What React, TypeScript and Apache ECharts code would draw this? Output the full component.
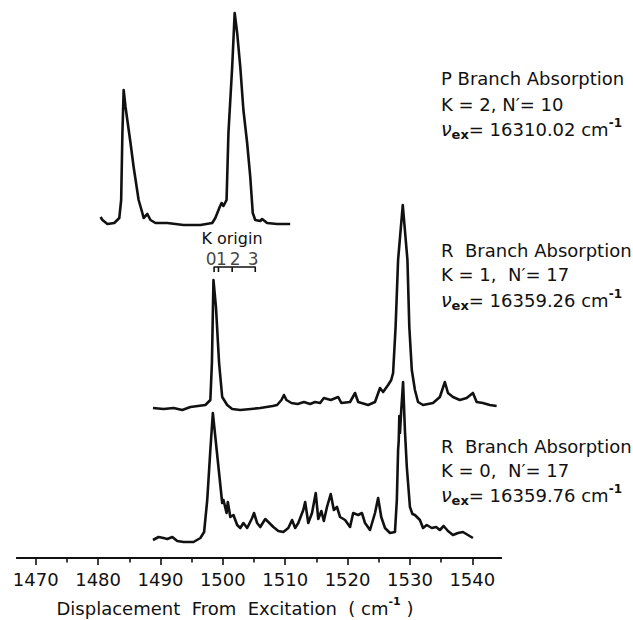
import React, { useEffect, useRef } from "react";
import * as echarts from "echarts";

// Axis ticks (cm^-1)
const majorTicks = [1470, 1480, 1490, 1500, 1510, 1520, 1530, 1540];
const minorTicks = [1475, 1485, 1495, 1505, 1515, 1525, 1535];

// Spectra: [displacement from excitation (cm^-1), intensity above the trace baseline]
const pBranchK2: [number, number][] = [
  [1480.4, 7], [1480.7, 4], [1481.5, 0], [1482.6, 1], [1483.4, 6], [1483.7, 24], [1483.9, 91],
  [1484.1, 134], [1484.4, 117], [1485.2, 81], [1485.7, 57], [1486.5, 24], [1487.1, 11], [1487.3, 6],
  [1487.9, 10], [1488.4, 4], [1489.2, 1], [1491.1, 1], [1493.7, -1], [1496.4, -1], [1498.3, 1],
  [1498.8, 6], [1499.5, 17], [1499.8, 21], [1500.1, 18], [1500.6, 24], [1500.9, 91], [1501.5, 157],
  [1501.9, 211], [1502.3, 191], [1502.8, 157], [1503.3, 114], [1503.9, 81], [1504.4, 47], [1504.8, 11],
  [1505.2, 4], [1506.0, 3], [1506.3, 5], [1507.1, 1], [1508.7, 0], [1510.8, 0],
];

const rBranchK1: [number, number][] = [
  [1488.8, 0], [1490.5, -1], [1492.1, 0], [1493.5, -2], [1494.8, 1], [1496.0, 2], [1497.2, 3],
  [1498.0, 8], [1498.25, 45], [1498.5, 128], [1498.9, 101], [1499.4, 45], [1499.9, 11], [1500.7, 3],
  [1501.5, -1], [1502.8, -2], [1504.5, -1], [1506.0, 0], [1508.0, 2], [1508.7, 3], [1509.4, 8],
  [1509.8, 13], [1510.2, 8], [1511.0, 5], [1512.0, 4], [1513.0, 6], [1514.0, 4], [1514.8, 6],
  [1515.6, 5], [1516.2, 10], [1517.3, 8], [1518.5, 11], [1519.0, 5], [1520.4, 6], [1521.2, 15],
  [1521.7, 6], [1523.3, 3], [1524.4, 6], [1525.2, 20], [1525.7, 16], [1526.5, 23], [1527.0, 28],
  [1527.3, 35], [1527.7, 81], [1528.1, 148], [1528.85, 203], [1529.6, 148], [1529.9, 81], [1530.3, 38],
  [1530.8, 18], [1531.3, 6], [1532.1, 3], [1533.7, 5], [1534.8, 11], [1535.6, 26], [1536.1, 15],
  [1536.9, 11], [1538.0, 8], [1539.1, 10], [1540.1, 15], [1540.7, 6], [1541.7, 5], [1542.8, 3],
  [1543.9, 2],
];

const rBranchK0: [number, number][] = [
  [1488.8, 1], [1489.7, 4], [1490.5, 3], [1491.1, 2], [1491.9, 4], [1492.7, 0], [1493.7, -1],
  [1495.3, -1], [1496.4, 3], [1497.0, 9], [1497.5, 41], [1498.0, 91], [1498.4, 128], [1498.8, 104],
  [1499.3, 74], [1499.9, 38], [1500.1, 41], [1500.6, 28], [1500.8, 39], [1501.2, 24], [1501.7, 26],
  [1502.3, 16], [1502.8, 13], [1503.3, 18], [1503.9, 13], [1504.7, 23], [1505.0, 28], [1505.5, 18],
  [1506.0, 14], [1506.8, 22], [1507.3, 19], [1508.1, 14], [1508.9, 10], [1509.7, 9], [1510.5, 13],
  [1511.1, 21], [1511.6, 13], [1512.1, 18], [1512.9, 31], [1513.2, 39], [1513.7, 18], [1514.3, 28],
  [1514.9, 48], [1515.3, 22], [1515.8, 30], [1516.2, 20], [1516.7, 34], [1517.3, 47], [1517.8, 31],
  [1518.3, 34], [1518.8, 24], [1519.6, 21], [1520.4, 14], [1520.9, 28], [1521.7, 26], [1522.3, 28],
  [1522.8, 18], [1523.6, 11], [1524.4, 28], [1524.9, 43], [1525.4, 24], [1526.0, 13], [1526.8, 8],
  [1527.6, 9], [1527.9, 41], [1528.1, 91], [1528.2, 100], [1528.3, 125], [1528.4, 108], [1528.6, 130],
  [1528.9, 159], [1529.2, 110], [1529.5, 74], [1530.0, 34], [1530.4, 27], [1530.8, 26], [1531.6, 21],
  [1532.1, 13], [1532.7, 16], [1533.5, 13], [1534.2, 14], [1534.8, 11], [1535.4, 15], [1536.1, 10],
  [1536.9, 6], [1537.7, 8], [1538.5, 9], [1539.3, 6], [1540.1, 3],
];

// K-origin positions of the sub-bands (cm^-1) and their K labels
const kOrigins = [1498.6, 1499.3, 1501.5, 1505.2];
const kOriginLabels = ["0", "1", "2", "3"];

// Text blocks beside each trace
const branchTitles = ["P Branch Absorption", "R  Branch Absorption", "R  Branch Absorption"];
const branchQuantum = ["K = 2, N\u2032= 10", "K = 1,  N\u2032= 17", "K = 0,  N\u2032= 17"];
const excitationNu = ["16310.02", "16359.26", "16359.76"];

const FONT = "DejaVu Sans";
const INK = "#111";

export default function App() {
  const ref = useRef<HTMLDivElement>(null);

  useEffect(() => {
    if (!ref.current) return;
    const chart = echarts.init(ref.current, undefined, { renderer: "svg" });

    // vertical placement of each trace's baseline on the hidden y scale
    const offsets = [334, 150, 17];
    const traces = [pBranchK2, rBranchK1, rBranchK0];

    const traceSeries = traces.map((t, i) => ({
      type: "line",
      xAxisIndex: 0,
      data: t.map(([x, v]) => [x, v + offsets[i]]),
      showSymbol: false,
      silent: true,
      lineStyle: { color: INK, width: 2.6, join: "round" },
    }));

    const bracketTop = 291;
    const bracketBottom = 286;
    const bracket: [number, number][] = [[kOrigins[0], bracketTop]];
    kOrigins.forEach((k, i) => {
      if (i > 0) bracket.push([k, bracketTop]);
      bracket.push([k, bracketBottom]);
      if (i < kOrigins.length - 1) bracket.push([k, bracketTop]);
    });

    const labelShift = [-3, 3, 3, -2];

    const labelBlocks: any[] = [];
    const blockY = [
      [78, 104, 129],
      [250, 274, 300],
      [446, 470, 495],
    ];
    for (let i = 0; i < 3; i++) {
      labelBlocks.push({
        type: "text",
        style: {
          x: 441, y: blockY[i][0], text: branchTitles[i], fill: INK,
          font: `18px "${FONT}"`, verticalAlign: "middle",
        },
      });
      labelBlocks.push({
        type: "text",
        style: {
          x: 441, y: blockY[i][1], text: branchQuantum[i], fill: INK,
          font: `18px "${FONT}"`, verticalAlign: "middle",
        },
      });
      labelBlocks.push({
        type: "text",
        style: {
          x: 441, y: blockY[i][2], verticalAlign: "middle",
          text: `{nu|\u03bd}{sub|ex}{t|= ${excitationNu[i]} cm}{sup|-1}`,
          rich: {
            nu: { fontFamily: FONT, fontSize: 19, fontStyle: "italic", fill: INK, lineHeight: 24 },
            sub: { fontFamily: FONT, fontSize: 13, fontWeight: "bold", fill: INK, verticalAlign: "bottom", lineHeight: 24 },
            t: { fontFamily: FONT, fontSize: 18, fill: INK, lineHeight: 24 },
            sup: { fontFamily: FONT, fontSize: 12, fontWeight: "bold", fill: INK, verticalAlign: "top", lineHeight: 24 },
          },
        },
      });
    }

    chart.setOption({
      animation: false,
      backgroundColor: "#fff",
      grid: { left: 17, top: 0, width: 484, height: 558 },
      xAxis: [
        {
          type: "value", min: 1467, max: 1544.6, position: "bottom",
          axisLine: { show: true, lineStyle: { color: INK, width: 2 } },
          axisTick: { show: true, customValues: majorTicks, length: 7, lineStyle: { color: INK, width: 1.6 } },
          axisLabel: {
            show: true, customValues: majorTicks, margin: 12, color: INK,
            fontFamily: FONT, fontSize: 18,
            formatter: (v: number) => String(v),
          },
          splitLine: { show: false },
        },
        {
          type: "value", min: 1467, max: 1544.6, position: "bottom",
          axisLine: { show: true, lineStyle: { color: INK, width: 2 } },
          axisTick: { show: true, customValues: minorTicks, length: 4.5, lineStyle: { color: INK, width: 1.6 } },
          axisLabel: { show: true, customValues: minorTicks, formatter: () => "" },
          splitLine: { show: false },
        },
      ],
      yAxis: { type: "value", min: 0, max: 558, show: false },
      series: [
        ...traceSeries,
        {
          type: "line",
          data: bracket,
          showSymbol: false,
          silent: true,
          lineStyle: { color: INK, width: 1.6 },
        },
        {
          type: "scatter",
          symbolSize: 0,
          silent: true,
          data: kOrigins.map((k, i) => ({
            value: [k, 299],
            label: { offset: [labelShift[i], 0] },
          })),
          label: {
            show: true, position: "inside", color: INK, fontFamily: FONT, fontSize: 17,
            formatter: (p: any) => kOriginLabels[p.dataIndex],
          },
        },
      ],
      graphic: [
        {
          type: "text",
          style: {
            x: 232, y: 238, text: "K origin", fill: INK, font: `16px "${FONT}"`,
            align: "center", verticalAlign: "middle",
          },
        },
        {
          type: "text",
          style: {
            x: 235, y: 608, align: "center", verticalAlign: "middle",
            text: "{t|Displacement  From  Excitation  ( cm}{sup|-1}{t| )}",
            rich: {
              t: { fontFamily: FONT, fontSize: 18, fill: INK, lineHeight: 24 },
              sup: { fontFamily: FONT, fontSize: 11, fontWeight: "bold", fill: INK, verticalAlign: "top", lineHeight: 24 },
            },
          },
        },
        ...labelBlocks,
      ],
    });

    return () => chart.dispose();
  }, []);

  return (
    <div
      ref={ref}
      style={{ position: "fixed", left: 0, top: 0, width: 633, height: 620, background: "#fff" }}
    />
  );
}
